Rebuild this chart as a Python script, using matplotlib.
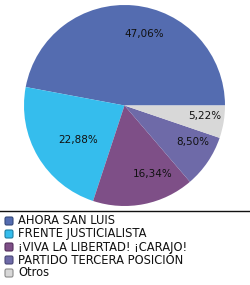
import matplotlib
matplotlib.use("Agg")
import numpy as np
import matplotlib.pyplot as plt
from matplotlib.patches import FancyBboxPatch
from matplotlib.lines import Line2D

categories = ["AHORA SAN LUIS", "FRENTE JUSTICIALISTA", "¡VIVA LA LIBERTAD! ¡CARAJO!",
              "PARTIDO TERCERA POSICIÓN", "Otros"]
values = [47.06, 22.88, 16.34, 8.50, 5.22]
colors = ["#546cb0", "#35bded", "#7e4f87", "#6e6aa8", "#d8d8d8"]
edge_colors = ["#34487a", "#1f7fa3", "#55305c", "#4a4775", "#8a8a8a"]
label_radius = [0.74, 0.58, 0.74, 0.77, 0.80]
label_angle_shift = [-10, 6, 11, 5.6, 2.2]

W, H = 250, 285
fig = plt.figure(figsize=(W / 100, H / 100), dpi=100)
fig.patch.set_facecolor("white")

ax = fig.add_axes([24 / W, (H - 206) / H, 201 / W, 201 / H])
wedges, texts, autotexts = ax.pie(
    values, colors=colors, startangle=0, counterclock=True,
    autopct=lambda p: f"{p:.2f}".replace(".", ",") + "%",
    pctdistance=0.76, wedgeprops=dict(linewidth=0),
    textprops=dict(fontsize=7.5, color="#111111", family="DejaVu Sans"))
for w, t, r, s in zip(wedges, autotexts, label_radius, label_angle_shift):
    ang = np.deg2rad((w.theta1 + w.theta2) / 2 + s)
    t.set_position((r * np.cos(ang), r * np.sin(ang)))
ax.set_aspect("equal")
ax.set_xlim(-1, 1)
ax.set_ylim(-1, 1)

# separator line
fig.add_artist(Line2D([0, 1], [(H - 210.5) / H] * 2, color="#111111", lw=1,
                      transform=fig.transFigure))

# legend
row0 = 221
dy = 13
for i, (c, ec, lab) in enumerate(zip(colors, edge_colors, categories)):
    yc = row0 + i * dy
    box = FancyBboxPatch((5 / W, (H - yc - 4) / H), 8 / W, 8 / H,
                         boxstyle="round,pad=0,rounding_size=0.006",
                         facecolor=c, edgecolor=ec, lw=0.8,
                         transform=fig.transFigure)
    fig.add_artist(box)
    fig.text(18 / W, (H - yc) / H, lab, fontsize=8.3, va="center", ha="left",
             color="#111111", family="DejaVu Sans")

fig.savefig("out.png", dpi=100, facecolor="white")
